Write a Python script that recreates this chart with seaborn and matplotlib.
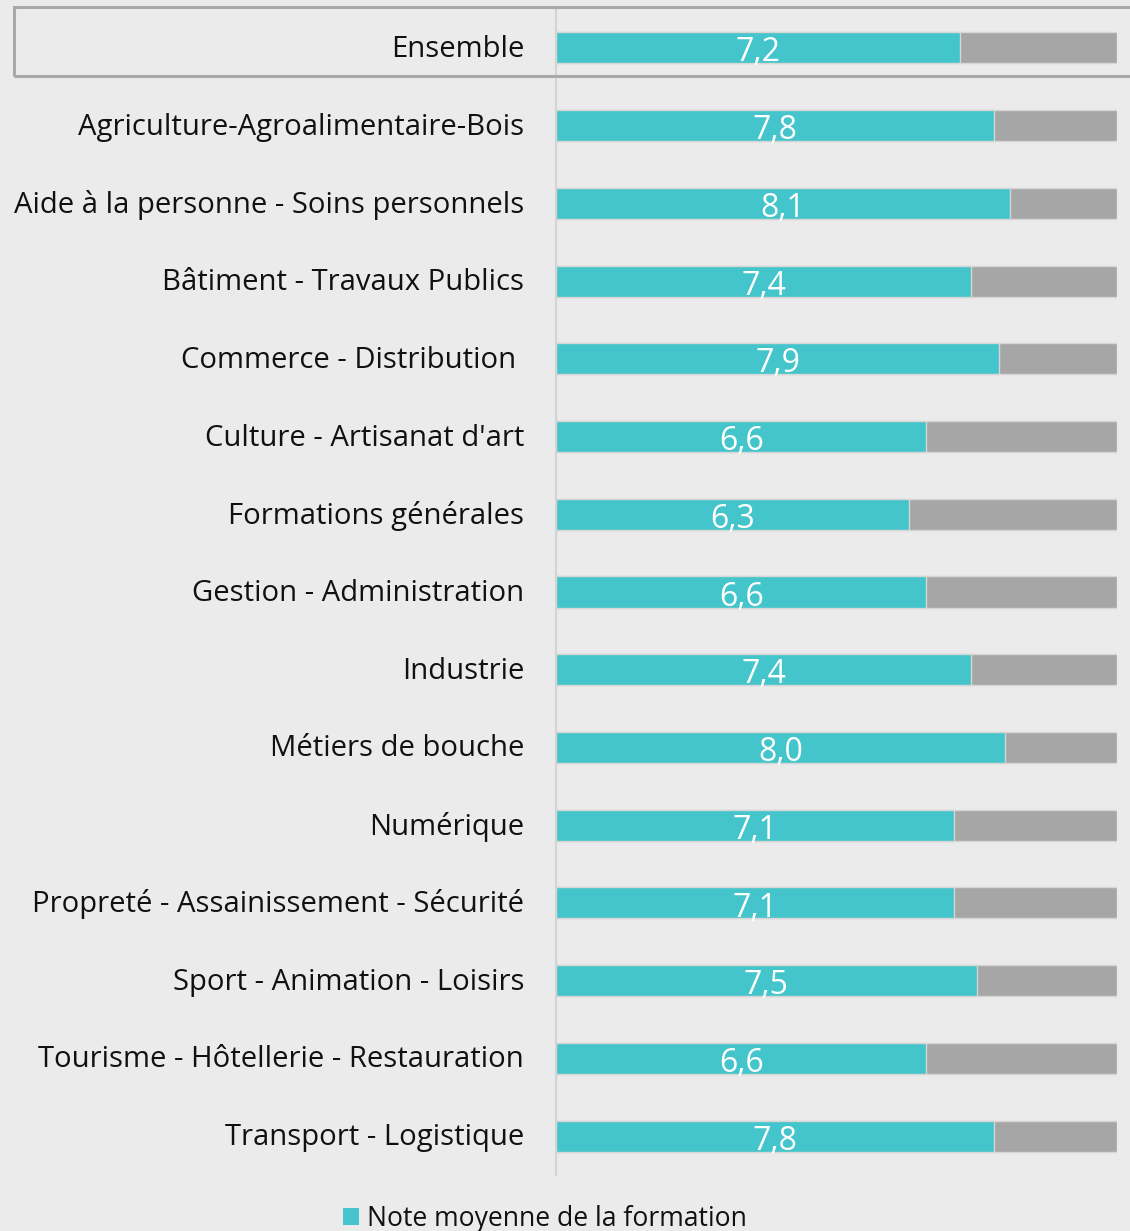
import matplotlib
matplotlib.use("Agg")
import matplotlib.pyplot as plt
from matplotlib.patches import Rectangle, Patch
from matplotlib.transforms import ScaledTranslation
import seaborn as sns
import pandas as pd

categories = [
    "Ensemble",
    "Agriculture-Agroalimentaire-Bois",
    "Aide à la personne - Soins personnels",
    "Bâtiment - Travaux Publics",
    "Commerce - Distribution ",
    "Culture - Artisanat d'art",
    "Formations générales",
    "Gestion - Administration",
    "Industrie",
    "Métiers de bouche",
    "Numérique",
    "Propreté - Assainissement - Sécurité",
    "Sport - Animation - Loisirs",
    "Tourisme - Hôtellerie - Restauration",
    "Transport - Logistique",
]
notes = [7.2, 7.8, 8.1, 7.4, 7.9, 6.6, 6.3, 6.6, 7.4, 8.0, 7.1, 7.1, 7.5, 6.6, 7.8]
scale_max = 10
legend_label = "Note moyenne de la formation"

TEAL = "#43C5CB"
GREY = "#A6A6A6"
BG = "#EBEBEB"

df = pd.DataFrame({"cat": categories, "note": notes, "max": [scale_max] * len(notes)})

sns.set_theme(style="white")
plt.rcParams["font.family"] = ["Open Sans", "DejaVu Sans"]

W, H = 1130, 1231
fig = plt.figure(figsize=(W / 100, H / 100), dpi=100, facecolor=BG)
ax = fig.add_axes([556 / W, 1 - 1175 / H, (1117 - 556) / W, (1175 - 9) / H])
ax.set_facecolor(BG)

sns.barplot(data=df, y="cat", x="max", color=GREY, orient="h", width=0.4,
            saturation=1, edgecolor="#D6D6D6", linewidth=1, ax=ax)
sns.barplot(data=df, y="cat", x="note", color=TEAL, orient="h", width=0.4,
            saturation=1, edgecolor="#D6D6D6", linewidth=1, ax=ax)

for i, v in enumerate(notes):
    ax.text(v / 2, i + 0.175, f"{v:.1f}".replace(".", ","), ha="center", va="baseline",
            color="white", fontsize=23)

ax.set_xlim(0, scale_max)
ax.set_ylim(len(categories) - 0.5, -0.5)
ax.set_xlabel("")
ax.set_ylabel("")
ax.set_xticks([])
ax.tick_params(axis="y", length=0, pad=23, labelsize=21.1, labelcolor="#111111")
shift = ScaledTranslation(0, 2 / 100, fig.dpi_scale_trans)
for lab in ax.get_yticklabels():
    lab.set_transform(lab.get_transform() + shift)
for s in ["top", "right", "bottom"]:
    ax.spines[s].set_visible(False)
ax.spines["left"].set_color("#D4D4D4")
ax.spines["left"].set_linewidth(1.5)

# frame around the overall row
fig.patches.append(Rectangle((14 / W, 1 - 76 / H), (W + 10 - 14) / W, (76 - 7) / H,
                             transform=fig.transFigure, fill=False,
                             edgecolor="#A9A9A9", linewidth=2.2, clip_on=False))

fig.legend(handles=[Patch(facecolor=TEAL, edgecolor="none", label=legend_label)],
           loc="center", bbox_to_anchor=(545 / W, 1 - 1219 / H), frameon=False,
           fontsize=19.1, handlelength=0.6, handleheight=0.6, handletextpad=0.3,
           labelcolor="#111111")

fig.savefig("out.png", dpi=100, facecolor=BG)
